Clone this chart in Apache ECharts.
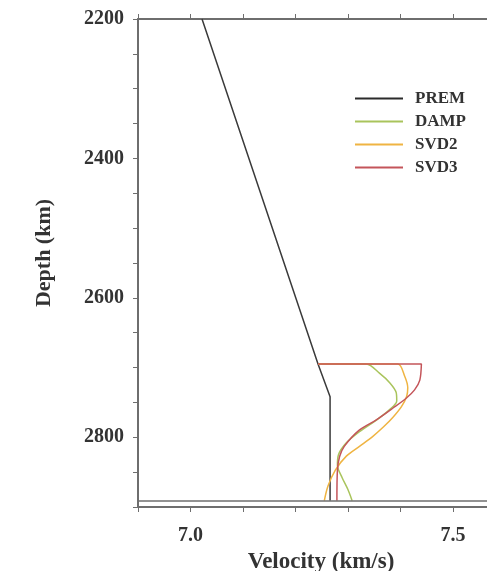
<!DOCTYPE html>
<html>
<head>
<meta charset="utf-8">
<script src="https://cdn.jsdelivr.net/npm/echarts@6.0.0/dist/echarts.min.js"></script>
<style>
  html, body { margin: 0; padding: 0; background: #fff; }
  #main { width: 487px; height: 571px; }
</style>
</head>
<body>
<div id="main"></div>
<script type="text/javascript">
    // velocity (km/s) vs depth (km)
    var premVel   = [7.022, 7.243, 7.266, 7.266];
    var premDepth = [2200, 2695, 2742, 2891];

    var dampVel   = [7.243, 7.335, 7.360, 7.380, 7.392, 7.393, 7.380, 7.355, 7.322, 7.297, 7.282, 7.280, 7.289, 7.300, 7.308];
    var dampDepth = [2695, 2695, 2708, 2722, 2736, 2748, 2760, 2775, 2792, 2808, 2825, 2840, 2858, 2875, 2891];

    var svd2Vel   = [7.243, 7.395, 7.408, 7.414, 7.412, 7.402, 7.385, 7.368, 7.347, 7.322, 7.297, 7.276, 7.262, 7.255];
    var svd2Depth = [2695, 2695, 2712, 2729, 2741, 2756, 2772, 2785, 2799, 2813, 2827, 2847, 2870, 2891];

    var svd3Vel   = [7.243, 7.440, 7.437, 7.427, 7.411, 7.386, 7.354, 7.321, 7.293, 7.284, 7.280, 7.279];
    var svd3Depth = [2695, 2695, 2718, 2732, 2744, 2758, 2775, 2790, 2813, 2828, 2847, 2891];

    var cmbDepth = 2891;
    var depthLabels = [2200, 2400, 2600, 2800];
    var velLabels = [7.0, 7.5];

    function pairs(v, d) {
        var out = [];
        for (var i = 0; i < v.length; i++) out.push([v[i], d[i]]);
        return out;
    }

    var serif = 'Liberation Serif';
    var axisGray = '#6e6e6e';

    var dom = document.getElementById('main');
    var myChart = echarts.init(dom, null, {renderer: 'canvas'});
    var option = {
        backgroundColor: '#fff',
        animation: false,
        grid: {left: 138, right: 0, top: 19, bottom: 64, outerBoundsMode: 'none'},
        legend: {
            orient: 'vertical',
            left: 350,
            top: 85,
            itemWidth: 48,
            itemHeight: 12,
            itemGap: 6,
            icon: 'path://M0,0 L48,0 L48,2 L0,2 Z',
            textStyle: {fontFamily: serif, fontWeight: 'bold', fontSize: 17, color: '#333', padding: [0, 0, 0, 7]},
            data: ['PREM', 'DAMP', 'SVD2', 'SVD3']
        },
        xAxis: [
            {
                type: 'value',
                position: 'bottom',
                min: 6.9,
                max: 7.565,
                interval: 0.1,
                name: 'Velocity (km/s)',
                nameLocation: 'middle',
                nameGap: 41,
                nameTextStyle: {fontFamily: serif, fontWeight: 'bold', fontSize: 23, color: '#333', padding: [0, 0, 0, 17]},
                axisLine: {lineStyle: {color: axisGray, width: 2}},
                axisTick: {inside: false, length: 5, lineStyle: {color: axisGray, width: 1}},
                splitLine: {show: false},
                axisLabel: {
                    margin: 19,
                    fontFamily: serif, fontWeight: 'bold', fontSize: 20, color: '#333',
                    formatter: function (v) {
                        for (var i = 0; i < velLabels.length; i++) {
                            if (Math.abs(v - velLabels[i]) < 1e-6) return velLabels[i].toFixed(1);
                        }
                        return '';
                    }
                }
            },
            {
                type: 'value',
                position: 'top',
                min: 6.9,
                max: 7.565,
                interval: 0.1,
                axisLine: {lineStyle: {color: axisGray, width: 2}},
                axisTick: {inside: false, length: 5, lineStyle: {color: axisGray, width: 1}},
                axisLabel: {show: false},
                splitLine: {show: false}
            }
        ],
        yAxis: {
            type: 'value',
            inverse: true,
            min: 2200,
            max: 2900,
            interval: 50,
            name: 'Depth (km)',
            nameLocation: 'middle',
            nameGap: 83,
            nameTextStyle: {fontFamily: serif, fontWeight: 'bold', fontSize: 22, color: '#333', padding: [0, 0, 0, 20]},
            axisLine: {lineStyle: {color: axisGray, width: 2}},
            axisTick: {inside: false, length: 5, lineStyle: {color: axisGray, width: 1}},
            splitLine: {show: false},
            axisLabel: {
                interval: 0,
                margin: 14,
                fontFamily: serif, fontWeight: 'bold', fontSize: 20, color: '#333',
                formatter: function (v) {
                    return depthLabels.indexOf(v) >= 0 ? String(v) : '';
                }
            }
        },
        series: [
            {
                name: 'PREM',
                type: 'line',
                symbol: 'none',
                color: '#2b2b2b',
                lineStyle: {color: '#3a3a3a', width: 1.5},
                data: pairs(premVel, premDepth),
                markLine: {
                    silent: true,
                    symbol: ['none', 'none'],
                    label: {show: false},
                    lineStyle: {color: axisGray, width: 1.5, type: 'solid'},
                    data: [{yAxis: cmbDepth}]
                }
            },
            {
                name: 'DAMP',
                type: 'line',
                symbol: 'none',
                smooth: 0.3,
                color: '#a9c45c',
                lineStyle: {color: '#a9c45c', width: 1.5},
                data: pairs(dampVel, dampDepth)
            },
            {
                name: 'SVD2',
                type: 'line',
                symbol: 'none',
                smooth: 0.3,
                color: '#efb442',
                lineStyle: {color: '#efb442', width: 1.5},
                data: pairs(svd2Vel, svd2Depth)
            },
            {
                name: 'SVD3',
                type: 'line',
                symbol: 'none',
                smooth: 0.3,
                color: '#c4555a',
                lineStyle: {color: '#c4555a', width: 1.5},
                data: pairs(svd3Vel, svd3Depth)
            }
        ]
    };

    if (option && typeof option === 'object') {
        myChart.setOption(option, true);
    }
</script>
</body>
</html>
